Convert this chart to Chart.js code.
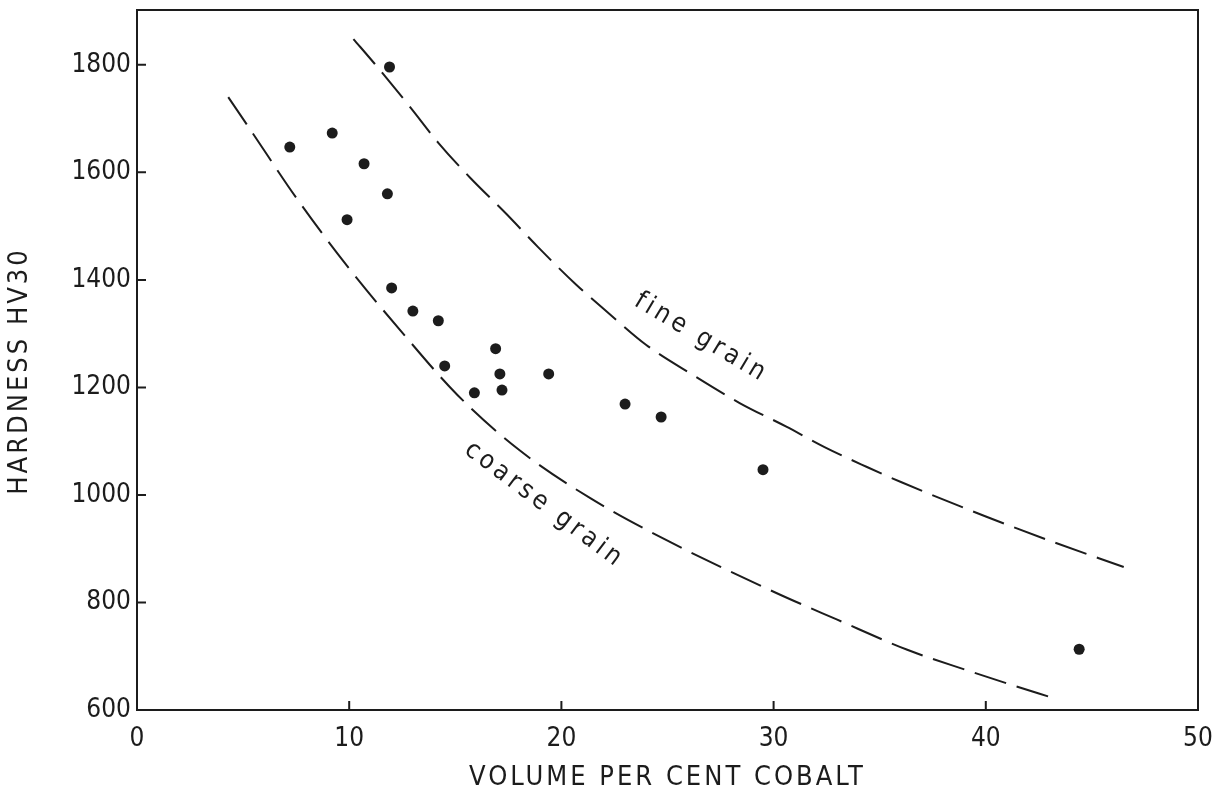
<!DOCTYPE html>
<html>
<head>
<meta charset="utf-8">
<title>Hardness vs cobalt content</title>
<script src="https://cdn.jsdelivr.net/npm/chart.js@4.4.1/dist/chart.umd.min.js"></script>
<style>
  html, body { margin: 0; padding: 0; background: #fff; }
  #wrap { width: 1220px; height: 789px; }
</style>
</head>
<body>
<div id="wrap"><canvas id="hardChart" width="1220" height="789"></canvas></div>
<script>
// Measured hardness values
const cobalt = [7.2, 9.2, 10.7, 11.8, 9.9, 11.9, 12.0, 13.0, 14.2, 16.9, 14.5, 17.1, 19.4, 17.2, 15.9, 23.0, 24.7, 29.5, 44.4];
const hardness = [1647, 1673, 1616, 1560, 1512, 1796, 1385, 1342, 1324, 1272, 1240, 1225, 1225, 1195, 1190, 1169, 1145, 1047, 713];

// Limit curves for fine and coarse grain
const fineX = [10.2, 11.2, 12.9, 14.2, 15.7, 17.4, 18.9, 20.7, 22.2, 24.0, 26.2, 28.4, 30.6, 32.4, 34.4, 36.0, 40.0, 43.0, 46.5];
const fineY = [1848, 1802, 1720, 1655, 1590, 1523, 1461, 1391, 1339, 1279, 1223, 1171, 1127, 1089, 1052, 1024, 960, 915, 866];
const coarseX = [4.3, 5.5, 7.5, 9.9, 12.5, 15.1, 18.0, 21.4, 25.0, 30.0, 33.0, 36.3, 39.1, 41.2, 43.2];
const coarseY = [1740, 1670, 1553, 1426, 1302, 1186, 1084, 993, 915, 820, 768, 712, 674, 647, 622];

// Axis ticks
const xTicks = [0, 10, 20, 30, 40, 50];
const yTicks = [600, 800, 1000, 1200, 1400, 1600, 1800];

const xTitle = 'VOLUME PER CENT COBALT';
const yTitle = 'HARDNESS HV30';

const fontFamily = "'Liberation Sans Narrow', 'DejaVu Sans Condensed', 'Liberation Sans', sans-serif";
const ink = '#1c1c1c';

// Curve names, written along the curves
const curveLabels = [
  { text: 'fine grain', x: 26.6, y: 1292, angle: 31 },
  { text: 'coarse grain', x: 19.2, y: 981, angle: 37 }
];

function toPoints(xs, ys) {
  return xs.map((v, i) => ({ x: v, y: ys[i] }));
}

const curveStyle = {
  showLine: true,
  borderColor: ink,
  borderWidth: 2,
  borderDash: [33, 11],
  pointRadius: 0,
  cubicInterpolationMode: 'monotone',
  fill: false
};

// Frame, inward ticks, axis titles and curve names
const decorations = {
  id: 'decorations',
  afterDraw(chart) {
    const { ctx, chartArea: a, scales: { x, y } } = chart;
    ctx.save();
    ctx.strokeStyle = ink;
    ctx.lineWidth = 2;
    ctx.strokeRect(a.left, a.top, a.right - a.left, a.bottom - a.top);

    ctx.beginPath();
    xTicks.slice(1, -1).forEach(v => {
      const px = x.getPixelForValue(v);
      ctx.moveTo(px, a.bottom);
      ctx.lineTo(px, a.bottom - 9);
    });
    yTicks.slice(1).forEach(v => {
      const py = y.getPixelForValue(v);
      ctx.moveTo(a.left, py);
      ctx.lineTo(a.left + 9, py);
    });
    ctx.stroke();

    ctx.fillStyle = ink;
    ctx.font = '27px ' + fontFamily;
    ctx.letterSpacing = '3px';
    ctx.textAlign = 'center';
    ctx.textBaseline = 'alphabetic';
    ctx.fillText(xTitle, (a.left + a.right) / 2, 785);

    ctx.save();
    ctx.translate(20, 371);
    ctx.rotate(-Math.PI / 2);
    ctx.textBaseline = 'middle';
    ctx.fillText(yTitle, 0, 0);
    ctx.restore();

    ctx.font = '26px ' + fontFamily;
    ctx.letterSpacing = '4px';
    ctx.textBaseline = 'middle';
    curveLabels.forEach(l => {
      ctx.save();
      ctx.translate(x.getPixelForValue(l.x), y.getPixelForValue(l.y));
      ctx.rotate(l.angle * Math.PI / 180);
      ctx.fillText(l.text, 0, 0);
      ctx.restore();
    });
    ctx.restore();
  }
};

const ctx = document.getElementById('hardChart').getContext('2d');
const hardChart = new Chart(ctx, {
  type: 'scatter',
  data: {
    datasets: [
      Object.assign({ label: 'fine grain', data: toPoints(fineX, fineY) }, curveStyle),
      Object.assign({ label: 'coarse grain', data: toPoints(coarseX, coarseY) }, curveStyle),
      {
        label: 'measured',
        data: toPoints(cobalt, hardness),
        pointRadius: 5.5,
        pointBackgroundColor: ink,
        pointBorderWidth: 0,
        showLine: false
      }
    ]
  },
  options: {
    responsive: false,
    animation: false,
    layout: { padding: { top: 10, right: 22, left: 0, bottom: 0 } },
    plugins: {
      legend: { display: false },
      tooltip: { enabled: false }
    },
    scales: {
      x: {
        type: 'linear',
        min: 0,
        max: 50,
        grid: { display: false, drawTicks: false },
        border: { display: false },
        afterBuildTicks: s => { s.ticks = xTicks.map(v => ({ value: v })); },
        afterFit: s => {
          s.height = 79;
          s.paddingLeft = 0;
          s.paddingRight = 0;
        },
        ticks: {
          color: ink,
          padding: 14,
          maxRotation: 0,
          callback: v => String(v),
          font: { family: fontFamily, size: 26 }
        }
      },
      y: {
        type: 'linear',
        min: 600,
        max: 1902,
        grid: { display: false, drawTicks: false },
        border: { display: false },
        afterBuildTicks: s => { s.ticks = yTicks.map(v => ({ value: v })); },
        afterFit: s => {
          s.width = 137;
          s.paddingTop = 0;
          s.paddingBottom = 0;
        },
        ticks: {
          color: ink,
          padding: 6,
          callback: v => String(v),
          font: { family: fontFamily, size: 26 }
        }
      }
    }
  },
  plugins: [decorations]
});
</script>
</body>
</html>
